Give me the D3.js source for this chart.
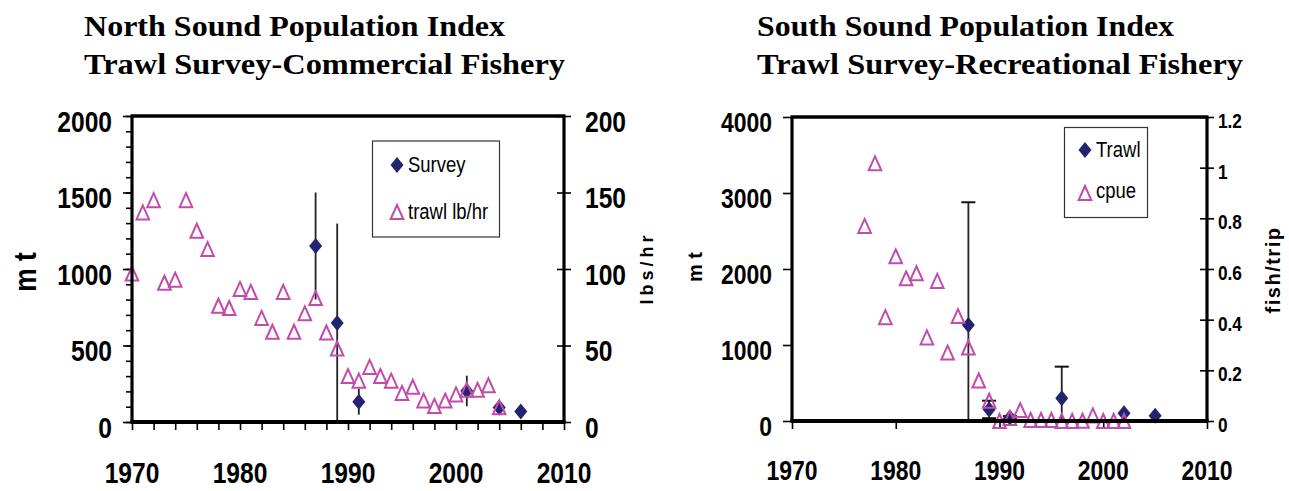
<!DOCTYPE html>
<html><head><meta charset="utf-8">
<script src="https://cdn.jsdelivr.net/npm/d3@7"></script>
<style>
body{margin:0;background:#fff;}
svg{display:block;}
.lab{font-family:"Liberation Sans",Arial,sans-serif;}
.title{font-family:"Liberation Serif","Times New Roman",serif;font-weight:bold;}
</style></head><body>
<svg id="c" width="1289" height="491"></svg>
<script>
// ---------- North Sound data ----------
const nsTitle = ["North Sound Population Index", "Trawl Survey-Commercial Fishery"];
const nsCpueYears = [1970,1971,1972,1973,1974,1975,1976,1977,1978,1979,1980,1981,1982,1983,1984,1985,1986,1987,1988,1989,1990,1991,1992,1993,1994,1995,1996,1997,1998,1999,2000,2001,2002,2003,2004];
const nsCpue = [97,137,145,91,93,145,125,113,76,74.5,87,85,68,59,85,59,71,81,58.5,48,30,27,36,30,27,19,23,14,10.5,14,18,21,21,24,9.6];
const nsSurveyYears = [1987,1989,1991,2001,2004,2006];
const nsSurvey = [1150,647,133,203,94,68];
const nsSurveyErr = [350,650,85,100,30,0];
const nsLeftTicks = [0,500,1000,1500,2000];
const nsRightTicks = [0,50,100,150,200];
const nsXTicks = [1970,1980,1990,2000,2010];
const nsLegend = ["Survey","trawl lb/hr"];

// ---------- South Sound data ----------
const ssTitle = ["South Sound Population Index", "Trawl Survey-Recreational Fishery"];
const ssCpueYears = [1977,1978,1979,1980,1981,1982,1983,1984,1985,1986,1987,1988,1989,1990,1991,1992,1993,1994,1995,1996,1997,1998,1999,2000,2001,2002];
const ssCpue = [0.77,1.017,0.41,0.65,0.563,0.583,0.33,0.553,0.27,0.414,0.29,0.16,0.08,0,0.012,0.043,0.004,0.004,0.004,0,0,0.001,0.022,0,0,0];
const ssTrawlYears = [1987,1989,1991,1996,2002,2005];
const ssTrawl = [1263,152,45,298,101,70];
const ssTrawlErr = [1615,115,20,417,0,0];
const ssLeftTicks = [0,1000,2000,3000,4000];
const ssRightTicks = [0,0.2,0.4,0.6,0.8,1,1.2];
const ssXTicks = [1970,1980,1990,2000,2010];
const ssLegend = ["Trawl","cpue"];

const NAVY = "#23236f";
const PINK = "#c24bab";

const svg = d3.select("#c");
svg.append("rect").attr("width",1289).attr("height",491).attr("fill","#fff");

const diamond = "M0,-8L6.5,0L0,8L-6.5,0Z";
const triangle = "M0,-7L6.3,7L-6.3,7Z";

function narrow(sel, k){
  sel.each(function(){
    const w = this.getComputedTextLength();
    d3.select(this).attr("textLength", w*k).attr("lengthAdjust","spacingAndGlyphs");
  });
}

function styleAxis(ax){
  ax.select(".domain").remove();
  ax.selectAll(".tick line").attr("stroke","#000").attr("stroke-width",1.6);
}

function panel(o){
  const g = svg.append("g");
  const x = d3.scaleLinear().domain(o.xDomain).range([o.left,o.right]);
  const yL = d3.scaleLinear().domain(o.yLDomain).range([o.bottom,o.top]);
  const yR = d3.scaleLinear().domain(o.yRDomain).range([o.bottom,o.top]);

  o.title.forEach((t,i)=>{
    g.append("text").attr("class","title").attr("x",o.titleX).attr("y",o.titleY[i])
      .attr("font-size",30).attr("textLength",o.titleLen[i]).attr("lengthAdjust","spacingAndGlyphs").text(t);
  });

  if (o.leftMinor){
    const gm = g.append("g").attr("transform",`translate(${o.left},0)`)
      .call(d3.axisLeft(yL).tickValues(o.leftMinor).tickSize(6).tickFormat(""));
    styleAxis(gm);
  }
  const gl = g.append("g").attr("transform",`translate(${o.left},0)`)
    .call(d3.axisLeft(yL).tickValues(o.leftTicks).tickSize(9).tickPadding(o.leftPad).tickFormat(d=>String(d)));
  styleAxis(gl);
  const lt = gl.selectAll("text").attr("class","lab").attr("font-size",o.leftFs).attr("font-weight","bold")
    .attr("fill","#000").attr("dy",o.leftDy);
  narrow(lt, 0.82);

  const gr = g.append("g").attr("transform",`translate(${o.right},0)`)
    .call(d3.axisRight(yR).tickValues(o.rightTicks).tickSize(7).tickPadding(o.rightPad).tickFormat(d=>String(d)));
  styleAxis(gr);
  gr.selectAll(".tick line").attr("x1",-7);
  const rt = gr.selectAll("text").attr("class","lab").attr("font-size",o.rightFs).attr("font-weight","bold")
    .attr("fill","#000").attr("dy",o.rightDy);
  narrow(rt, 0.82);

  const gb = g.append("g").attr("transform",`translate(0,${o.bottom})`)
    .call(d3.axisBottom(x).tickValues(o.xMinor).tickSize(8).tickFormat(""));
  styleAxis(gb);
  const xt = g.selectAll(null).data(o.xTicks).enter().append("text").attr("class","lab")
    .attr("x",d=>x(d)).attr("y",o.xLabelY).attr("text-anchor","middle")
    .attr("font-size",o.xFs).attr("font-weight","bold").text(d=>String(d));
  narrow(xt, 0.82);

  o.diaYears.forEach((yr,i)=>{
    const e = o.diaErr[i];
    if (!e) return;
    const lo = Math.max(0,o.diaVals[i]-e), hi = o.diaVals[i]+e;
    g.append("line").attr("x1",x(yr)).attr("x2",x(yr)).attr("y1",yL(lo)).attr("y2",yL(hi))
      .attr("stroke","#222").attr("stroke-width",1.8);
    if (o.caps){
      [lo,hi].forEach(v=>{
        if (v<=0) return;
        g.append("line").attr("x1",x(yr)-7).attr("x2",x(yr)+7).attr("y1",yL(v)).attr("y2",yL(v))
          .attr("stroke","#111").attr("stroke-width",2);
      });
    }
  });
  g.selectAll(null).data(o.diaYears.map((yr,i)=>[yr,o.diaVals[i]])).enter().append("path")
    .attr("d",diamond).attr("fill",NAVY)
    .attr("transform",d=>`translate(${x(d[0])},${yL(d[1])})`);
  g.selectAll(null).data(o.triYears.map((yr,i)=>[yr,o.triVals[i]])).enter().append("path")
    .attr("d",triangle).attr("fill","none").attr("stroke",PINK).attr("stroke-width",2)
    .attr("transform",d=>`translate(${x(d[0])},${yR(d[1])})`);

  const fr = g.append("g");
  [[o.left,o.top,o.left,o.bottom,3.2],[o.left-1.5,o.top,o.right+1.5,o.top,3.5],
   [o.right,o.top,o.right,o.bottom,3.2],[o.left-1.5,o.bottom,o.right+1.5,o.bottom,4]].forEach(s=>{
    fr.append("line").attr("x1",s[0]).attr("y1",s[1]).attr("x2",s[2]).attr("y2",s[3])
      .attr("stroke","#000").attr("stroke-width",s[4]);
  });

  const L = o.legend;
  g.append("rect").attr("x",L.x).attr("y",L.y).attr("width",L.w).attr("height",L.h)
    .attr("fill","#fff").attr("stroke","#333").attr("stroke-width",1.2);
  g.append("path").attr("d",diamond).attr("fill",NAVY).attr("transform",`translate(${L.mx},${L.my1})`);
  g.append("path").attr("d",triangle).attr("fill","none").attr("stroke",PINK).attr("stroke-width",2)
    .attr("transform",`translate(${L.mx},${L.my2})`);
  const lg = g.selectAll(null).data(o.legendText).enter().append("text").attr("class","lab")
    .attr("x",L.tx).attr("y",(d,i)=>i?L.ty2:L.ty1).attr("font-size",22).text(d=>d);
  narrow(lg, 0.84);
  return g;
}

panel({
  title: nsTitle, titleX: 84, titleY: [36, 74], titleLen: [421, 481],
  xDomain:[1970,2010], yLDomain:[0,2000], yRDomain:[0,200],
  left:132, right:564, top:116, bottom:422,
  leftMinor: d3.range(0,2001,100), leftTicks: nsLeftTicks, leftPad: 11, leftFs: 30, leftDy: "0.5em",
  rightTicks: nsRightTicks, rightPad: 14, rightFs: 30, rightDy: "0.5em",
  xMinor: d3.range(1970,2011,2), xTicks: nsXTicks, xLabelY: 483, xFs: 30,
  diaYears: nsSurveyYears, diaVals: nsSurvey, diaErr: nsSurveyErr, caps:false,
  triYears: nsCpueYears, triVals: nsCpue,
  legend:{x:372.5,y:141,w:127,h:96,mx:397,my1:165,my2:212,tx:408,ty1:172,ty2:219},
  legendText: nsLegend
});

panel({
  title: ssTitle, titleX: 757, titleY: [36, 74], titleLen: [417, 486],
  xDomain:[1970,2010], yLDomain:[0,4000], yRDomain:[0,1.2],
  left:792, right:1207, top:117, bottom:421,
  leftMinor: null, leftTicks: ssLeftTicks, leftPad: 11, leftFs: 28, leftDy: "0.52em",
  rightTicks: ssRightTicks, rightPad: 4, rightFs: 21, rightDy: "0.5em",
  xMinor: ssXTicks, xTicks: ssXTicks, xLabelY: 480, xFs: 28,
  diaYears: ssTrawlYears, diaVals: ssTrawl, diaErr: ssTrawlErr, caps:true,
  triYears: ssCpueYears, triVals: ssCpue,
  legend:{x:1064.5,y:127.5,w:83,h:90,mx:1085,my1:150,my2:193,tx:1096,ty1:157,ty2:198},
  legendText: ssLegend
});

const mt = svg.append("text").attr("class","lab").attr("font-size",32).attr("font-weight","bold")
  .attr("text-anchor","middle").attr("transform","translate(36,272) rotate(-90)").text("m t");
narrow(mt, 0.82);
svg.append("text").attr("class","lab").attr("font-size",18).attr("font-weight","bold").attr("letter-spacing",4)
  .attr("text-anchor","middle").attr("transform","translate(653,268) rotate(-90)").text("lbs/hr");
svg.append("text").attr("class","lab").attr("font-size",20).attr("font-weight","bold")
  .attr("text-anchor","middle").attr("transform","translate(702,267) rotate(-90)").text("m t");
svg.append("text").attr("class","lab").attr("font-size",20).attr("font-weight","bold").attr("letter-spacing",1.5)
  .attr("text-anchor","middle").attr("transform","translate(1280,270) rotate(-90)").text("fish/trip");
</script>
</body></html>
